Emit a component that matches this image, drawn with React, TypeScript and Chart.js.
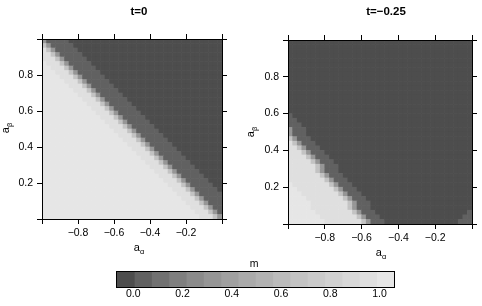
import React, { useEffect, useRef } from "react";
import { Chart, registerables } from "chart.js";

Chart.register(...registerables);

const FONT = "'Liberation Sans', Arial, Helvetica, sans-serif";

// cell centres of the grid
const A_ALPHA = [
  -0.9875, -0.9625, -0.9375, -0.9125, -0.8875, -0.8625, -0.8375, -0.8125, -0.7875, -0.7625,
  -0.7375, -0.7125, -0.6875, -0.6625, -0.6375, -0.6125, -0.5875, -0.5625, -0.5375, -0.5125,
  -0.4875, -0.4625, -0.4375, -0.4125, -0.3875, -0.3625, -0.3375, -0.3125, -0.2875, -0.2625,
  -0.2375, -0.2125, -0.1875, -0.1625, -0.1375, -0.1125, -0.0875, -0.0625, -0.0375, -0.0125,
];
const A_BETA = [
  0.0125, 0.0375, 0.0625, 0.0875, 0.1125, 0.1375, 0.1625, 0.1875, 0.2125, 0.2375,
  0.2625, 0.2875, 0.3125, 0.3375, 0.3625, 0.3875, 0.4125, 0.4375, 0.4625, 0.4875,
  0.5125, 0.5375, 0.5625, 0.5875, 0.6125, 0.6375, 0.6625, 0.6875, 0.7125, 0.7375,
  0.7625, 0.7875, 0.8125, 0.8375, 0.8625, 0.8875, 0.9125, 0.9375, 0.9625, 0.9875,
];

// m level index (hex digit, 0 = lowest bin, f = highest) per cell; top row (a_beta high) first
const M_T0 = [
  "5111110000 0000000000 0000000000 0000000000",
  "a511111000 0000000000 0000000000 0000000000",
  "ea51111100 0000000000 0000000000 0000000000",
  "eea5111110 0000000000 0000000000 0000000000",
  "eeea511111 0000000000 0000000000 0000000000",
  "feeea51111 1000000000 0000000000 0000000000",
  "ffeeea5111 1100000000 0000000000 0000000000",
  "fffeeea511 1110000000 0000000000 0000000000",
  "ffffeeea51 1111000000 0000000000 0000000000",
  "fffffeeea5 1111100000 0000000000 0000000000",
  "ffffffeeea 5111110000 0000000000 0000000000",
  "fffffffeee a511111000 0000000000 0000000000",
  "ffffffffee ea51111100 0000000000 0000000000",
  "fffffffffe eea5111110 0000000000 0000000000",
  "ffffffffff eeea511111 0000000000 0000000000",
  "ffffffffff feeea51111 1000000000 0000000000",
  "ffffffffff ffeeea5111 1100000000 0000000000",
  "ffffffffff fffeeea511 1110000000 0000000000",
  "ffffffffff ffffeeea51 1111000000 0000000000",
  "ffffffffff fffffeeea5 1111100000 0000000000",
  "ffffffffff ffffffeeea 5111110000 0000000000",
  "ffffffffff fffffffeee a511111000 0000000000",
  "ffffffffff ffffffffee ea51111100 0000000000",
  "ffffffffff fffffffffe eea5111110 0000000000",
  "ffffffffff ffffffffff eeea511111 0000000000",
  "ffffffffff ffffffffff feeea51111 1000000000",
  "ffffffffff ffffffffff ffeeea5111 1100000000",
  "ffffffffff ffffffffff fffeeea511 1110000000",
  "ffffffffff ffffffffff ffffeeea51 1111000000",
  "ffffffffff ffffffffff fffffeeea5 1111100000",
  "ffffffffff ffffffffff ffffffeeea 5111110000",
  "ffffffffff ffffffffff fffffffeee a511111000",
  "ffffffffff ffffffffff ffffffffee ea51111100",
  "ffffffffff ffffffffff fffffffffe eea5111110",
  "ffffffffff ffffffffff ffffffffff eeea511111",
  "ffffffffff ffffffffff ffffffffff feeea51111",
  "ffffffffff ffffffffff ffffffffff ffeeea5111",
  "ffffffffff ffffffffff ffffffffff fffeeea511",
  "ffffffffff ffffffffff ffffffffff ffffeeea51",
  "ffffffffff ffffffffff ffffffffff fffffeeea5",
];

const M_T025 = [
  "0000000000 0000000000 0000000000 0000000000",
  "0000000000 0000000000 0000000000 0000000000",
  "0000000000 0000000000 0000000000 0000000000",
  "0000000000 0000000000 0000000000 0000000000",
  "0000000000 0000000000 0000000000 0000000000",
  "0000000000 0000000000 0000000000 0000000000",
  "0000000000 0000000000 0000000000 0000000000",
  "0000000000 0000000000 0000000000 0000000000",
  "0000000000 0000000000 0000000000 0000000000",
  "0000000000 0000000000 0000000000 0000000000",
  "0000000000 0000000000 0000000000 0000000000",
  "0000000000 0000000000 0000000000 0000000000",
  "0000000000 0000000000 0000000000 0000000000",
  "0000000000 0000000000 0000000000 0000000000",
  "0000000000 0000000000 0000000000 0000000000",
  "0000000000 0000000000 0000000000 0000000000",
  "1000000000 0000000000 0000000000 0000000000",
  "1100000000 0000000000 0000000000 0000000000",
  "1110000000 0000000000 0000000000 0000000000",
  "5111000000 0000000000 0000000000 0000000000",
  "5111000000 0000000000 0000000000 0000000000",
  "a511100000 0000000000 0000000000 0000000000",
  "ea51110000 0000000000 0000000000 0000000000",
  "eea5111000 0000000000 0000000000 0000000000",
  "eeea511100 0000000000 0000000000 0000000000",
  "eeeea51110 0000000000 0000000000 0000000000",
  "eeeeea5111 0000000000 0000000000 0000000000",
  "eeeeeea511 1000000000 0000000000 0000000000",
  "eeeeeea511 1000000000 0000000000 0000000000",
  "eeeeeeea51 1100000000 0000000000 0000000000",
  "eeeeeeeea5 1110000000 0000000000 0000000000",
  "feeeeeeeea 5111000000 0000000000 0000000000",
  "ffeeeeeeee a511100000 0000000000 0000000000",
  "fffeeeeeee ea51110000 0000000000 0000000000",
  "ffffeeeeee eea5111000 0000000000 0000000000",
  "fffffeeeee eeea511100 0000000000 0000000000",
  "fffffeeeee eeea511100 0000000000 0000000000",
  "ffffffeeee eeeea51110 0000000000 0000000001",
  "fffffffeee eeeeea5111 0000000000 0000000011",
  "ffffffffee eeeeeea511 1000000000 0000000111",
];

const PALETTE = [
  "#4D4D4D", "#616161", "#717171", "#7F7F7F", "#8B8B8B", "#969696", "#A0A0A0", "#AAAAAA",
  "#B2B2B2", "#BBBBBB", "#C3C3C3", "#CACACA", "#D1D1D1", "#D8D8D8", "#DFDFDF", "#E6E6E6",
];
const KEY_BREAKS = [
  -0.066, 0.0043, 0.0746, 0.1449, 0.2153, 0.2856, 0.3559, 0.4262, 0.4965,
  0.5668, 0.6371, 0.7074, 0.7778, 0.8481, 0.9184, 0.9887, 1.059,
];
const KEY_TICKS = [0, 0.2, 0.4, 0.6, 0.8, 1.0];
const ALPHA_TICKS = [-1, -0.8, -0.6, -0.4, -0.2, 0];
const BETA_TICKS = [0, 0.2, 0.4, 0.6, 0.8, 1];

const fmt = (v: number) => {
  const r = Math.round(v * 10) / 10;
  return (r === 0 ? 0 : r).toFixed(1).replace("-", "\u2212");
};

function drawSubLabel(ctx: CanvasRenderingContext2D, base: string, sub: string, x: number, y: number, rotate: boolean) {
  ctx.save();
  ctx.translate(x, y);
  if (rotate) ctx.rotate(-Math.PI / 2);
  ctx.fillStyle = "#000";
  ctx.textBaseline = "alphabetic";
  ctx.textAlign = "left";
  ctx.font = `11px ${FONT}`;
  const wb = ctx.measureText(base).width;
  ctx.font = `7.5px ${FONT}`;
  const ws = ctx.measureText(sub).width;
  const x0 = -(wb + ws) / 2;
  ctx.font = `11px ${FONT}`;
  ctx.fillText(base, x0, 3);
  ctx.font = `7.5px ${FONT}`;
  ctx.fillText(sub, x0 + wb, 5.5);
  ctx.restore();
}

type Area = { left: number; top: number; right: number; bottom: number };
type Labels = { title: string; tx: number; ty: number; xx: number; xy: number; yx: number; yy: number };

function axis(pos: string, min: number, max: number, ticksArr: number[], labels: boolean, fit: (s: any) => void) {
  return {
    type: "linear",
    position: pos,
    min,
    max,
    afterBuildTicks: (s: any) => {
      s.ticks = ticksArr.map((v) => ({ value: v }));
    },
    afterFit: fit,
    grid: { drawOnChartArea: false, drawTicks: true, tickLength: 5, color: "#000", lineWidth: 1 },
    border: { display: true, color: "#000", width: 1, z: 1 },
    ticks: {
      display: labels,
      font: { family: FONT, size: 10.5 },
      color: "#000",
      padding: pos === "left" ? 4 : 2.5,
      maxRotation: 0,
      autoSkip: false,
      callback: (v: number, i: number, t: any[]) => (i === 0 || i === t.length - 1 ? "" : fmt(v)),
    },
  };
}

function makePanel(canvas: HTMLCanvasElement, rows: string[], area: Area, W: number, H: number, lab: Labels) {
  const pts: { x: number; y: number }[] = [];
  const cols: string[] = [];
  rows.forEach((row, r) => {
    const cells = row.replace(/ /g, "");
    const y = A_BETA[A_BETA.length - 1 - r];
    for (let i = 0; i < cells.length && i < A_ALPHA.length; i++) {
      pts.push({ x: A_ALPHA[i], y });
      cols.push(PALETTE[parseInt(cells[i], 16)]);
    }
  });
  const radius = (c: any) => {
    const s = c.chart.scales.x;
    const step = A_ALPHA[1] - A_ALPHA[0];
    return Math.abs(s.getPixelForValue(step) - s.getPixelForValue(0)) / Math.SQRT2 + 0.45;
  };
  const textPlugin = {
    id: "panelText",
    afterDraw(chart: any) {
      const ctx = chart.ctx as CanvasRenderingContext2D;
      ctx.save();
      ctx.fillStyle = "#000";
      ctx.font = `bold 11.5px ${FONT}`;
      ctx.textAlign = "center";
      ctx.textBaseline = "middle";
      ctx.fillText(lab.title, lab.tx, lab.ty);
      ctx.restore();
      drawSubLabel(ctx, "a", "\u03b1", lab.xx, lab.xy, false);
      drawSubLabel(ctx, "a", "\u03b2", lab.yx, lab.yy, true);
    },
  };
  return new Chart(canvas, {
    type: "scatter",
    data: {
      datasets: [
        {
          data: pts,
          backgroundColor: cols,
          pointStyle: "rect",
          pointRadius: radius,
          pointHoverRadius: radius,
          pointBorderWidth: 0,
          borderWidth: 0,
          clip: 0,
        } as any,
      ],
    },
    options: {
      responsive: false,
      animation: false,
      devicePixelRatio: 1,
      events: [],
      layout: { padding: { left: 0, top: area.top, right: W - area.right, bottom: 0 } },
      plugins: { legend: { display: false }, tooltip: { enabled: false }, title: { display: false } },
      scales: {
        x: axis("bottom", -1, 0, ALPHA_TICKS, true, (s) => {
          s.height = H - area.bottom;
          s.paddingLeft = 0;
          s.paddingRight = 0;
        }),
        y: axis("left", 0, 1, BETA_TICKS, true, (s) => {
          s.width = area.left;
          s.paddingTop = 0;
          s.paddingBottom = 0;
        }),
        x2: axis("top", -1, 0, ALPHA_TICKS, false, (s) => {
          s.height = 0;
          s.paddingLeft = 0;
          s.paddingRight = 0;
        }),
        y2: axis("right", 0, 1, BETA_TICKS, false, (s) => {
          s.width = 0;
          s.paddingTop = 0;
          s.paddingBottom = 0;
        }),
      } as any,
    },
    plugins: [textPlugin],
  } as any);
}

function makeKey(canvas: HTMLCanvasElement) {
  const datasets = PALETTE.map((c, k) => ({
    data: [[KEY_BREAKS[k], KEY_BREAKS[k + 1]]],
    backgroundColor: c,
    borderWidth: 0,
    grouped: false,
    barPercentage: 1,
    categoryPercentage: 1,
  }));
  const keyPlugin = {
    id: "keyBox",
    afterDatasetsDraw(chart: any) {
      const { left, top, right, bottom } = chart.chartArea;
      const ctx = chart.ctx as CanvasRenderingContext2D;
      ctx.save();
      ctx.strokeStyle = "#000";
      ctx.lineWidth = 1;
      ctx.strokeRect(Math.round(left) - 0.5, Math.round(top) - 0.5, Math.round(right - left) + 1, Math.round(bottom - top) + 1);
      ctx.fillStyle = "#000";
      ctx.font = `10.5px ${FONT}`;
      ctx.textAlign = "center";
      ctx.textBaseline = "middle";
      ctx.fillText("m", 254, 9);
      ctx.restore();
    },
  };
  return new Chart(canvas, {
    type: "bar",
    data: { labels: [""], datasets },
    options: {
      indexAxis: "y",
      responsive: false,
      animation: false,
      devicePixelRatio: 1,
      events: [],
      layout: { padding: { left: 117, right: 88, top: 17, bottom: 0 } },
      plugins: { legend: { display: false }, tooltip: { enabled: false } },
      scales: {
        x: {
          type: "linear",
          min: KEY_BREAKS[0],
          max: KEY_BREAKS[KEY_BREAKS.length - 1],
          afterBuildTicks: (s: any) => {
            s.ticks = KEY_TICKS.map((v) => ({ value: v }));
          },
          afterFit: (s: any) => {
            s.height = 19;
            s.paddingLeft = 0;
            s.paddingRight = 0;
          },
          grid: { display: false, drawTicks: false },
          border: { display: false },
          ticks: {
            font: { family: FONT, size: 10.5 },
            color: "#000",
            padding: 1,
            maxRotation: 0,
            autoSkip: false,
            callback: (v: number) => fmt(v),
          },
        },
        y: { type: "category", display: false },
      },
    },
    plugins: [keyPlugin],
  } as any);
}

export default function App() {
  const leftRef = useRef<HTMLCanvasElement>(null);
  const rightRef = useRef<HTMLCanvasElement>(null);
  const keyRef = useRef<HTMLCanvasElement>(null);
  useEffect(() => {
    const charts = [
      makePanel(leftRef.current!, M_T0, { left: 42, top: 39, right: 222, bottom: 219 }, 241, 262, {
        title: "t=0", tx: 139, ty: 12, xx: 139, xy: 248, yx: 6, yy: 128,
      }),
      makePanel(rightRef.current!, M_T025, { left: 47, top: 40, right: 231, bottom: 224 }, 241, 262, {
        title: "t=\u22120.25", tx: 145, ty: 12, xx: 140, xy: 253, yx: 10, yy: 132,
      }),
      makeKey(keyRef.current!),
    ];
    return () => charts.forEach((c) => c.destroy());
  }, []);
  return (
    <div style={{ position: "absolute", left: 0, top: 0, width: 482, height: 306, background: "#fff", overflow: "hidden" }}>
      <canvas ref={leftRef} width={241} height={262} style={{ position: "absolute", left: 0, top: 0 }} />
      <canvas ref={rightRef} width={241} height={262} style={{ position: "absolute", left: 241, top: 0 }} />
      <canvas ref={keyRef} width={482} height={51} style={{ position: "absolute", left: 0, top: 255 }} />
    </div>
  );
}
